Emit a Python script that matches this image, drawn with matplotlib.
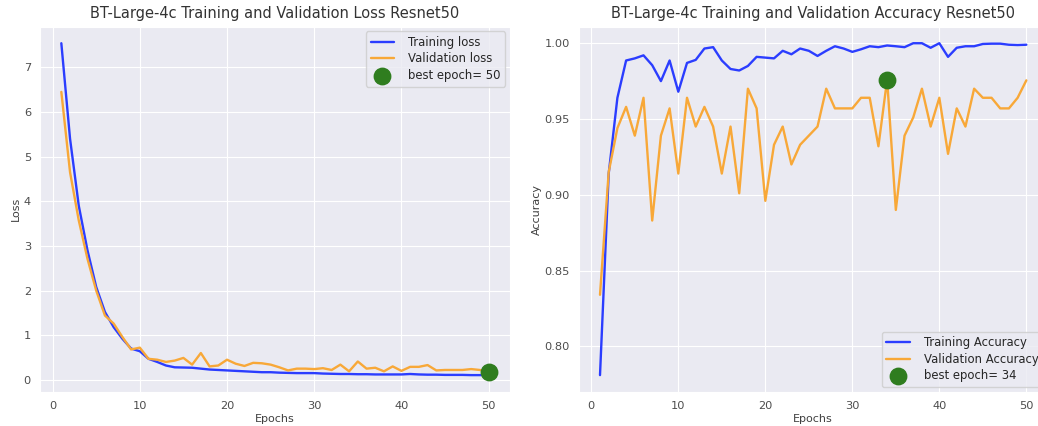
import numpy as np
import seaborn as sns
from matplotlib import pyplot as plt

sns.set_style('darkgrid')
plt.rcParams['font.family'] = ['DejaVu Sans']

epochs = list(range(1, 51))

# loss values
tr_loss = [7.54, 5.40, 3.90, 2.90, 2.08, 1.52, 1.18, 0.92, 0.70, 0.64,
           0.47, 0.40, 0.32, 0.28, 0.275, 0.27, 0.25, 0.23, 0.22, 0.21,
           0.20, 0.19, 0.18, 0.17, 0.17, 0.16, 0.155, 0.15, 0.15, 0.15,
           0.14, 0.135, 0.13, 0.13, 0.125, 0.125, 0.12, 0.12, 0.12, 0.12,
           0.13, 0.12, 0.115, 0.115, 0.11, 0.11, 0.11, 0.105, 0.105, 0.105]
val_loss = [6.45, 4.65, 3.57, 2.71, 2.00, 1.44, 1.26, 0.96, 0.68, 0.72,
            0.47, 0.45, 0.40, 0.43, 0.49, 0.34, 0.60, 0.30, 0.32, 0.45,
            0.36, 0.31, 0.38, 0.37, 0.34, 0.28, 0.21, 0.25, 0.25, 0.24,
            0.26, 0.22, 0.34, 0.19, 0.41, 0.25, 0.27, 0.19, 0.30, 0.20,
            0.29, 0.29, 0.33, 0.21, 0.22, 0.22, 0.22, 0.24, 0.22, 0.18]

# accuracy values
tr_acc = [0.781, 0.914, 0.964, 0.9886, 0.990, 0.992, 0.9855, 0.975, 0.9886, 0.968,
          0.987, 0.989, 0.9965, 0.9974, 0.9886, 0.983, 0.982, 0.985, 0.991, 0.9905,
          0.990, 0.995, 0.9927, 0.9965, 0.995, 0.9916, 0.995, 0.998, 0.9965, 0.9943,
          0.996, 0.998, 0.9974, 0.9985, 0.998, 0.9974, 1.000, 1.000, 0.997, 1.000,
          0.991, 0.997, 0.998, 0.998, 0.9995, 0.9997, 0.9997, 0.999, 0.9988, 0.999]
val_acc = [0.834, 0.915, 0.944, 0.958, 0.939, 0.964, 0.883, 0.939, 0.957, 0.914,
           0.964, 0.945, 0.958, 0.945, 0.914, 0.945, 0.901, 0.970, 0.957, 0.896,
           0.933, 0.945, 0.920, 0.933, 0.939, 0.945, 0.970, 0.957, 0.957, 0.957,
           0.964, 0.964, 0.932, 0.976, 0.890, 0.939, 0.951, 0.970, 0.945, 0.964,
           0.927, 0.957, 0.945, 0.970, 0.964, 0.964, 0.957, 0.957, 0.964, 0.9755]

title_tag = 'BT-Large-4c'
model_name = 'Resnet50'

best_loss_idx = int(np.argmin(val_loss))
best_acc_idx = int(np.argmax(val_acc))

blue = '#2b3dff'
orange = '#f8a838'
green = '#2f7d1f'

fig = plt.figure(figsize=(10.38, 4.26), dpi=100)
ax1 = fig.add_axes([0.0385, 0.0805, 0.4528, 0.857])
ax2 = fig.add_axes([0.5575, 0.0805, 0.4518, 0.857])

# loss panel
ax1.plot(epochs, tr_loss, color=blue, lw=1.7, label='Training loss')
ax1.plot(epochs, val_loss, color=orange, lw=1.7, label='Validation loss')
ax1.scatter(epochs[best_loss_idx], val_loss[best_loss_idx], s=140, c=green,
            zorder=3, label='best epoch= ' + str(best_loss_idx + 1))
ax1.set_title(title_tag + ' Training and Validation Loss ' + model_name,
              fontsize=10.5, color='.2', pad=6)
ax1.set_xlabel('Epochs', fontsize=8, color='.25', labelpad=2)
ax1.set_ylabel('Loss', fontsize=8, color='.25', labelpad=2)
ax1.legend(loc='upper right', fontsize=8.4, labelspacing=0.3,
           borderaxespad=0.4, handletextpad=1.2)

# accuracy panel
ax2.plot(epochs, tr_acc, color=blue, lw=1.7, label='Training Accuracy')
ax2.plot(epochs, val_acc, color=orange, lw=1.7, label='Validation Accuracy')
ax2.scatter(epochs[best_acc_idx], val_acc[best_acc_idx], s=140, c=green,
            zorder=3, label='best epoch= ' + str(best_acc_idx + 1))
ax2.set_title(title_tag + ' Training and Validation Accuracy ' + model_name,
              fontsize=10.5, color='.2', pad=6)
ax2.set_xlabel('Epochs', fontsize=8, color='.25', labelpad=2)
ax2.set_ylabel('Accuracy', fontsize=8, color='.25', labelpad=2)
ax2.set_yticks([0.80, 0.85, 0.90, 0.95, 1.00])
ax2.set_yticklabels(['0.80', '0.85', '0.90', '0.95', '1.00'])
ax2.legend(loc='lower right', fontsize=8.4, labelspacing=0.3,
           borderaxespad=0.4, handletextpad=1.2)

for ax in (ax1, ax2):
    ax.tick_params(labelsize=8.2, colors='.3', pad=3)

fig.savefig('out.png', dpi=100)
